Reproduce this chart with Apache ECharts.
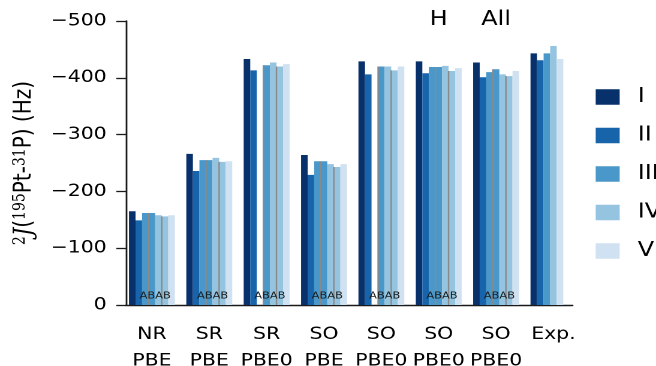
<!DOCTYPE html>
<html>
<head>
<meta charset="utf-8">
<script src="https://cdn.jsdelivr.net/npm/echarts@6/dist/echarts.min.js"></script>
<style>
  html, body { margin: 0; padding: 0; background: #fff; overflow: hidden; }
  /* the reference figure is stretched sideways, so draw narrow and stretch */
  #main { width: 547px; height: 366px; transform: scaleX(1.19927); transform-origin: 0 0; }
</style>
</head>
<body>
<div id="main"></div>
<script>
var categories = ["NR\nPBE", "SR\nPBE", "SR\nPBE0", "SO\nPBE", "SO\nPBE0", "SO\nPBE0", "SO\nPBE0", "Exp."];
var topNotes = ["", "", "", "", "", "H", "All", ""];
var abLabels = ["ABAB", "ABAB", "ABAB", "ABAB", "ABAB", "ABAB", "ABAB", ""];

// computed groups (first seven categories)
var valI    = [-165, -266, -433, -264, -429, -429, -427];
var valII   = [-149, -236, -413, -229, -406, -408, -401];
var valIIIA = [-162, -255, null, -253, null, -419, -410];
var valIIIB = [-162, -255, -422, -253, -420, -419, -415];
var valIVA  = [-158, -259, -427, -248, -420, -421, -406];
var valIVB  = [-156, -252, -420, -243, -413, -412, -403];
var valV    = [-158, -253, -424, -248, -420, -417, -412];
// experiment: I, II, III, IV, V
var valExp  = [-443, -431, -443, -456, -433];

var legendNames = ["I", "II", "III", "IV", "V"];
var colors = ["#08306b", "#1764ab", "#4a98c9", "#94c4df", "#d0e1f2"];

var chart = echarts.init(document.getElementById("main"), null, { renderer: "canvas", devicePixelRatio: 2 });

var seriesVals = [valI, valII, valIIIA, valIIIB, valIVA, valIVB, valV];
var seriesName = ["I", "II", "III", "III", "IV", "IV", "V"];
var seriesColor = [0, 1, 2, 2, 3, 3, 4];

var barSeries = seriesVals.map(function (vals, k) {
  var data = vals.slice();
  // Exp group holds five bars packed from the left
  if (k < valExp.length) {
    data.push({ value: valExp[k], itemStyle: { color: colors[k] } });
  } else {
    data.push(null);
  }
  return {
    name: seriesName[k],
    type: "bar",
    xAxisIndex: 0,
    yAxisIndex: 0,
    barGap: "0%",
    barCategoryGap: "20%",
    itemStyle: { color: colors[seriesColor[k]] },
    data: data
  };
});

var overlay = {
  type: "custom",
  xAxisIndex: 0,
  yAxisIndex: 0,
  clip: false,
  silent: true,
  z: 5,
  data: categories.map(function (c, i) { return [i, 0]; }),
  renderItem: function (params, api) {
    var i = params.dataIndex;
    var p0 = api.coord([i, 0]);
    var band = api.size([1, 0])[0];
    var bw = band * 0.8 / 7;
    var left = p0[0] - band * 0.4;
    var children = [];
    if (i < valIIIB.length) {
      var x3 = left + 3 * bw, x5 = left + 5 * bw;
      var y3 = api.coord([i, valIIIB[i]])[1];
      var y5 = api.coord([i, valIVB[i]])[1];
      children.push({ type: "line", shape: { x1: x3, y1: p0[1], x2: x3, y2: y3 }, style: { stroke: "#8a8a8a", lineWidth: 1.2 } });
      children.push({ type: "line", shape: { x1: x5, y1: p0[1], x2: x5, y2: y5 }, style: { stroke: "#8a8a8a", lineWidth: 1.2 } });
    }
    if (abLabels[i]) {
      children.push({ type: "text", style: { text: abLabels[i], x: left + 4 * bw, y: p0[1] - 4, align: "center", verticalAlign: "bottom", fontSize: 9.5, fontFamily: "DejaVu Sans", fill: "#1a1a1a" } });
    }
    if (topNotes[i]) {
      var pt = api.coord([i, -500]);
      children.push({ type: "text", style: { text: topNotes[i], x: pt[0], y: pt[1] - 1, align: "center", verticalAlign: "middle", fontSize: 20, fontFamily: "DejaVu Sans", fill: "#000" } });
    }
    return { type: "group", children: children };
  }
};

var option = {
  backgroundColor: "#fff",
  animation: false,
  textStyle: { fontFamily: "DejaVu Sans" },
  grid: [
    { left: 102.75, right: 61.6, top: 21, bottom: 61, outerBoundsMode: "none", containLabel: false },
    { left: 105, right: 69.5, top: 21, bottom: 61, outerBoundsMode: "none", containLabel: false }
  ],
  legend: {
    data: legendNames,
    orient: "vertical",
    left: 496.7,
    top: 87,
    padding: 0,
    icon: "rect",
    itemWidth: 20,
    itemHeight: 15.5,
    itemGap: 18.5,
    selectedMode: false,
    textStyle: { fontSize: 20, color: "#000", padding: [0, 0, 0, 10], fontFamily: "DejaVu Sans" }
  },
  xAxis: [
    {
      type: "category",
      gridIndex: 0,
      data: categories,
      axisLine: { show: false },
      axisTick: { show: false },
      axisLabel: { fontSize: 17, lineHeight: 26.7, margin: 16, color: "#000", interval: 0 }
    },
    {
      type: "value",
      gridIndex: 1,
      min: 0,
      max: 1,
      axisLine: { show: true, lineStyle: { color: "#1a1a1a", width: 1.4 } },
      axisTick: { show: false },
      axisLabel: { show: false },
      splitLine: { show: false }
    }
  ],
  yAxis: [
    {
      type: "value",
      gridIndex: 0,
      min: -500,
      max: 0,
      inverse: true,
      show: false,
      splitLine: { show: false }
    },
    {
      type: "value",
      gridIndex: 1,
      min: -500,
      max: 0,
      interval: 100,
      inverse: true,
      axisLine: { show: true, lineStyle: { color: "#1a1a1a", width: 1.4 } },
      axisTick: { show: true, length: 8, lineStyle: { color: "#1a1a1a", width: 1.3 } },
      axisLabel: {
        fontSize: 17,
        margin: 16,
        color: "#000",
        formatter: function (v) { return String(v).replace("-", "\u2212"); }
      },
      splitLine: { show: false },
      name: "{s|2}{j|J}({s|195}Pt-{s|31}P) (Hz)",
      nameLocation: "middle",
      nameRotate: 90,
      nameGap: 74,
      nameTextStyle: {
        fontSize: 20,
        color: "#000",
        rich: {
          s: { fontSize: 14, fontFamily: "DejaVu Serif", verticalAlign: "top", color: "#000" },
          j: { fontSize: 21, fontFamily: "DejaVu Serif", fontStyle: "italic", color: "#000" }
        }
      }
    }
  ],
  series: barSeries.concat([overlay])
};

chart.setOption(option);
</script>
</body>
</html>
